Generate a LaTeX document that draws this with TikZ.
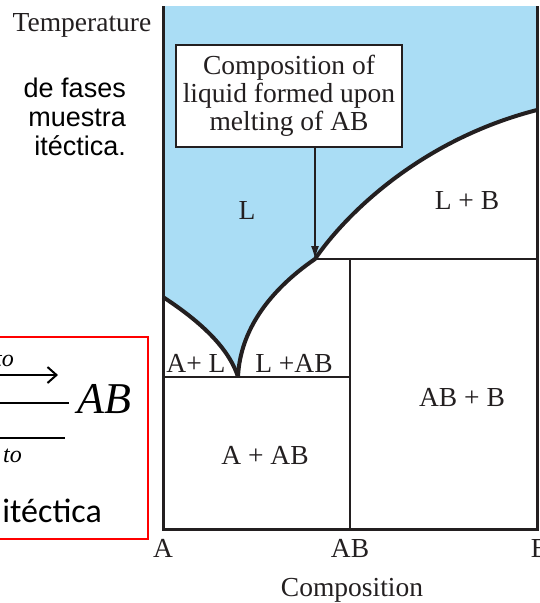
\documentclass[tikz,border=0pt]{standalone}
\usepackage{fontspec}
\setmainfont{Liberation Serif}
\newfontfamily\slidefont{Liberation Sans}
\newfontfamily\calfont{Carlito}
\usetikzlibrary{arrows.meta}

\definecolor{liqblue}{RGB}{170,221,245}
\definecolor{inkgray}{RGB}{35,31,32}

\begin{document}
\begin{tikzpicture}[x=1pt, y=-1pt,
    phase/.style={font=\fontsize{27.5}{28}\selectfont, text=inkgray, inner sep=0pt, anchor=base},
    slide/.style={font=\slidefont\fontsize{27}{30}\selectfont, inner sep=0pt, anchor=base east},
    liquidus/.style={line width=4pt, inkgray},
    tieline/.style={line width=2.4pt, inkgray},
    eqline/.style={line width=2pt, black}]
    \useasboundingbox (0,0) rectangle (539,603);
    \clip (0,0) rectangle (539,603);

    % key points of the diagram
    \coordinate (top-left) at (163,6);
    \coordinate (top-right) at (537,6);
    \coordinate (bot-left) at (163,529);
    \coordinate (bot-right) at (537,529);
    \coordinate (melt-A) at (163,297);
    \coordinate (melt-B) at (537,110);
    \coordinate (eut) at (238,377);
    \coordinate (peri) at (315,259);
    \coordinate (ab-top) at (350,259);
    \coordinate (ab-bot) at (350,529);

    % liquid region
    \fill[liqblue] (top-left) -- (top-right) -- (melt-B)
        .. controls (420,140) and (345,215) .. (peri)
        .. controls (270,290) and (240,330) .. (eut)
        .. controls (228,345) and (195,318) .. (melt-A) -- cycle;

    % frame and phase boundaries
    \draw[tieline, line width=3pt] (top-left) -- (bot-left) -- (bot-right) -- (top-right);
    \draw[tieline] (peri) -- (peri -| bot-right);
    \draw[tieline] (ab-top) -- (ab-bot);
    \draw[tieline] (eut -| bot-left) -- (eut -| ab-top);
    \draw[liquidus] (melt-B) .. controls (420,140) and (345,215) .. (peri)
        .. controls (270,290) and (240,330) .. (eut);
    \draw[liquidus] (melt-A) .. controls (195,318) and (228,345) .. (eut);

    % note on the peritectic point
    \node[draw=inkgray, line width=2pt, fill=white, minimum width=226pt, minimum height=102pt,
        align=center, font=\fontsize{27.5}{28}\selectfont, text=inkgray] (note) at (289,96)
        {Composition of\\liquid formed upon\\melting of AB};
    \draw[inkgray, line width=1.2pt, -{Latex[length=13pt, width=8pt]}] (note.south -| peri) -- (peri);

    % phase fields
    \node[phase] (f-L) at (247,219) {L};
    \node[phase] (f-LB) at (467,209) {L + B};
    \node[phase] (f-AL) at (196,372) {A+ L};
    \node[phase] (f-LAB) at (294,372) {L +AB};
    \node[phase] (f-ABB) at (462,406) {AB + B};
    \node[phase] (f-AAB) at (265,464) {A + AB};

    % axes
    \node[phase] (ax-T) at (82,31) {Temperature};
    \node[phase] (ax-A) at (163,557) {A};
    \node[phase] (ax-AB) at (350,557) {AB};
    \node[phase] (ax-B) at (540,557) {B};
    \node[phase] (ax-C) at (352,596) {Composition};

    % slide text, cut at the left
    \node[slide] (s1) at (126,97) {de fases};
    \node[slide] (s2) at (126,126) {muestra};
    \node[slide] (s3) at (126,155) {itéctica.};

    % reaction box
    \draw[red, line width=2pt] (-20,337) rectangle (148,539);
    \coordinate (r1) at (-10,375);
    \coordinate (r1e) at (58,375);
    \coordinate (r2) at (-10,403);
    \coordinate (r2e) at (69,403);
    \coordinate (r3) at (-10,438);
    \coordinate (r3e) at (65,438);
    \draw[eqline, -{Straight Barb[length=9pt, width=16pt]}] (r1) -- (r1e);
    \draw[eqline] (r2) -- (r2e);
    \draw[eqline] (r3) -- (r3e);
    \node[inner sep=0pt, anchor=base east, font=\itshape\fontsize{24}{24}\selectfont] (up-to) at (14,366) {to};
    \node[inner sep=0pt, anchor=base east, font=\itshape\fontsize{24}{24}\selectfont] (dn-to) at (22,462) {to};
    \node[inner sep=0pt, anchor=base west, font=\itshape\fontsize{44}{44}\selectfont] (prod) at (77,413) {AB};
    \node[inner sep=0pt, anchor=base east, font=\calfont\fontsize{34}{34}\selectfont] (kind) at (102,522) {itéctica};
\end{tikzpicture}
\end{document}
